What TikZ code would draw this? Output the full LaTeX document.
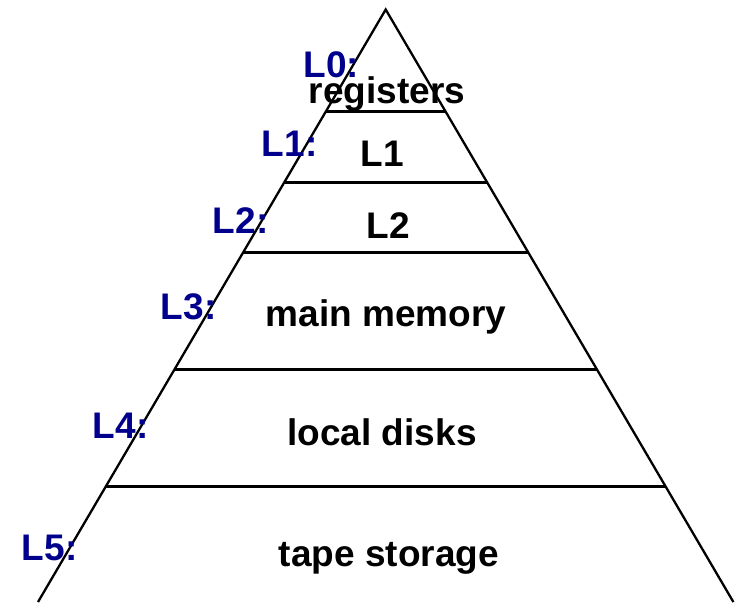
\documentclass[tikz,border=0pt]{standalone}
\usepackage{fontspec}
\setmainfont{Liberation Sans}
\usepackage{tikz}
\usetikzlibrary{calc,positioning}

\begin{document}
\begin{tikzpicture}[x=0.5pt, y=-0.5pt, font=\fontsize{18.5}{22}\selectfont\bfseries]

    % Define colors
    \definecolor{levelBlue}{RGB}{0, 0, 140}

    \tikzset{
        tier/.style={inner sep=0pt, anchor=base, color=black},
        level/.style={inner sep=0pt, anchor=base west, color=levelBlue},
        side/.style={line width=1.15pt, color=black},
        shelf/.style={line width=1.5pt, color=black}
    }

    \useasboundingbox (0,0) rectangle (740,602);

    % === PYRAMID OUTLINE ===
    \coordinate (apex) at (385.7, 9.5);
    \coordinate (bl) at (38, 602);
    \coordinate (br) at (733.4, 602);
    \draw[side] (bl) -- (apex) -- (br);

    % === LEVEL DIVIDERS ===
    \foreach \y in {111, 182, 252, 369, 486} {
        \draw[shelf] ($(apex)!{(\y-9.5)/592.5}!(bl)$) -- ($(apex)!{(\y-9.5)/592.5}!(br)$);
    }

    % === TIER NAMES ===
    \node[tier] (registers) at (387, 103.5) {registers};
    \node[tier] (cacheone) at (382.5, 166) {L1};
    \node[tier] (cachetwo) at (388.5, 238) {L2};
    \node[tier] (mainmem) at (386, 326) {main memory};
    \node[tier] (localdisk) at (382, 445) {local disks};
    \node[tier] (tape) at (389, 566) {tape storage};

    % === LEVEL LABELS ===
    \node[level] (levzero) at (303, 77.5) {L0:};
    \node[level] (levone) at (261.5, 156) {L1:};
    \node[level] (levtwo) at (212.5, 233) {L2:};
    \node[level] (levthree) at (160.5, 319) {L3:};
    \node[level] (levfour) at (92.5, 438) {L4:};
    \node[level] (levfive) at (21.5, 560) {L5:};

\end{tikzpicture}
\end{document}
